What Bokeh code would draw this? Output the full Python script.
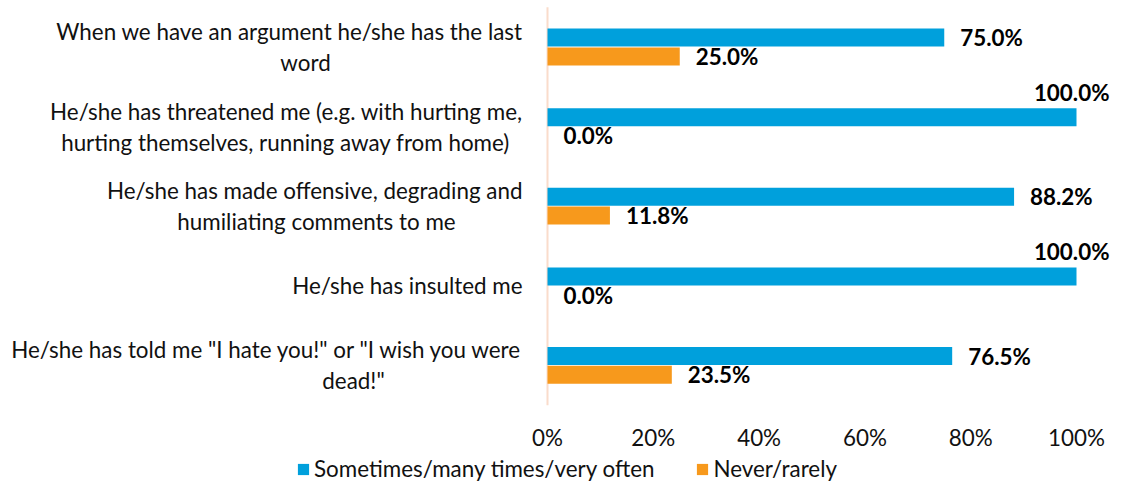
from bokeh.plotting import figure
from bokeh.models import ColumnDataSource, Legend, LegendItem, Range1d
from bokeh.transform import dodge
from bokeh.core.properties import value
from bokeh.embed import file_html
from bokeh.resources import INLINE

categories = [
    "When we have an argument he/she has the last\nword",
    "He/she has threatened me (e.g. with hurting me,\nhurting themselves, running away from home)",
    "He/she has made offensive, degrading and\nhumiliating comments to me",
    "He/she has insulted me",
    "He/she has told me \"I hate you!\" or \"I wish you were\ndead!\"",
]
often = [75.0, 100.0, 88.2, 100.0, 76.5]
never = [25.0, 0.0, 11.8, 0.0, 23.5]
series_names = ["Sometimes/many times/very often", "Never/rarely"]
tick_values = [0, 20, 40, 60, 80, 100]
tick_labels = ["0%", "20%", "40%", "60%", "80%", "100%"]

BLUE = "#00A0DC"
ORANGE = "#F7991C"
TEXT = "#111111"
FONT = "Lato"
FS = "22.4px"

# ---- layout (pixels) ----
W, H = 1110, 483
ZERO_PX, FULL_PX = 547, 529.0      # x pixel of 0%, pixel length of 100%
FIRST_PX, BAND_PX = 46.5, 79.6     # y pixel of first category centre, band height
LABEL_GAP = 25                     # gap between category labels and the axis line
LINE_SEP = 15.5                    # half the spacing of two label lines
LINE2_CENTER = [-242, -262, -231, 0, -194]   # x offset of the centre of each label's 2nd line
x_start = -100 * ZERO_PX / FULL_PX
x_end = 100 * (W - ZERO_PX) / FULL_PX
y_top = -FIRST_PX / BAND_PX
y_bot = y_top + H / BAND_PX

n = len(categories)
idx = list(range(n))

p = figure(width=W, height=H, output_backend="svg", toolbar_location=None,
           x_range=Range1d(x_start, x_end), y_range=Range1d(y_bot, y_top),
           min_border=0)
p.outline_line_color = None
p.grid.grid_line_color = None
p.background_fill_color = "white"
p.border_fill_color = "white"
p.xaxis.visible = False
p.yaxis.visible = False

src = ColumnDataSource(dict(i=idx, often=often, never=never))

# vertical axis line at 0 spanning the category bands
p.segment(x0=[0], y0=[-0.5], x1=[0], y1=[n - 0.5], line_color="#FADCCB", line_width=2)

BO, BH = 0.118, 0.226
r1 = p.hbar(y=dodge("i", -BO), right="often", left=0, height=BH,
            source=src, fill_color=BLUE, line_color=None)
r2 = p.hbar(y=dodge("i", BO), right="never", left=0, height=BH,
            source=src, fill_color=ORANGE, line_color=None)

# category labels: first line right aligned, second line centred under it
l1 = dict(i=[], t=[], oy=[])
l2 = dict(i=[], t=[], oy=[], ox=[])
for k, c in enumerate(categories):
    parts = c.split("\n")
    if len(parts) == 1:
        l1["i"].append(k); l1["t"].append(parts[0]); l1["oy"].append(0)
    else:
        l1["i"].append(k); l1["t"].append(parts[0]); l1["oy"].append(-LINE_SEP)
        l2["i"].append(k); l2["t"].append(parts[1]); l2["oy"].append(LINE_SEP)
        l2["ox"].append(LINE2_CENTER[k])
l1["x"] = [0] * len(l1["i"])
l2["x"] = [0] * len(l2["i"])
p.text(x="x", y="i", text="t", source=ColumnDataSource(l1), x_offset=-LABEL_GAP, y_offset="oy",
       text_align="right", text_baseline="middle", text_font=value(FONT), text_font_size=FS,
       text_color=TEXT)
p.text(x="x", y="i", text="t", source=ColumnDataSource(l2), x_offset="ox", y_offset="oy",
       text_align="center", text_baseline="middle", text_font=value(FONT), text_font_size=FS,
       text_color=TEXT)

def label_rows(vals):
    xs, offx, offy, align, texts = [], [], [], [], []
    for v in vals:
        texts.append(f"{v:.1f}%")
        xs.append(v)
        if v >= 100:
            offx.append(33); offy.append(-25); align.append("right")
        else:
            offx.append(16); offy.append(0); align.append("left")
    return dict(x=xs, ox=offx, oy=offy, al=align, t=texts)

for vals, off in ((often, -BO), (never, BO)):
    d = label_rows(vals)
    d["i"] = idx
    s = ColumnDataSource(d)
    p.text(x="x", y=dodge("i", off), text="t", source=s,
           x_offset="ox", y_offset="oy", text_align="al", text_baseline="middle",
           text_font=value(FONT), text_font_size=FS, text_font_style="bold", text_color="black")

# x tick labels below the last band
tsrc = ColumnDataSource(dict(x=tick_values, t=tick_labels, y=[n - 1] * len(tick_values)))
p.text(x="x", y="y", text="t", source=tsrc, y_offset=72, text_align="center",
       text_baseline="middle", text_font=value(FONT), text_font_size=FS, text_color=TEXT)

legend = Legend(items=[LegendItem(label=series_names[0], renderers=[r1]),
                       LegendItem(label=series_names[1], renderers=[r2])],
                orientation="horizontal", location=(296, 1),
                glyph_width=14, glyph_height=14, label_standoff=4, spacing=41,
                padding=0, margin=0, border_line_color=None, background_fill_alpha=0,
                label_text_font=FONT, label_text_font_size=FS, label_text_color=TEXT,
                label_height=22)
p.add_layout(legend, "center")

open("out.html", "w").write(file_html(p, INLINE))
